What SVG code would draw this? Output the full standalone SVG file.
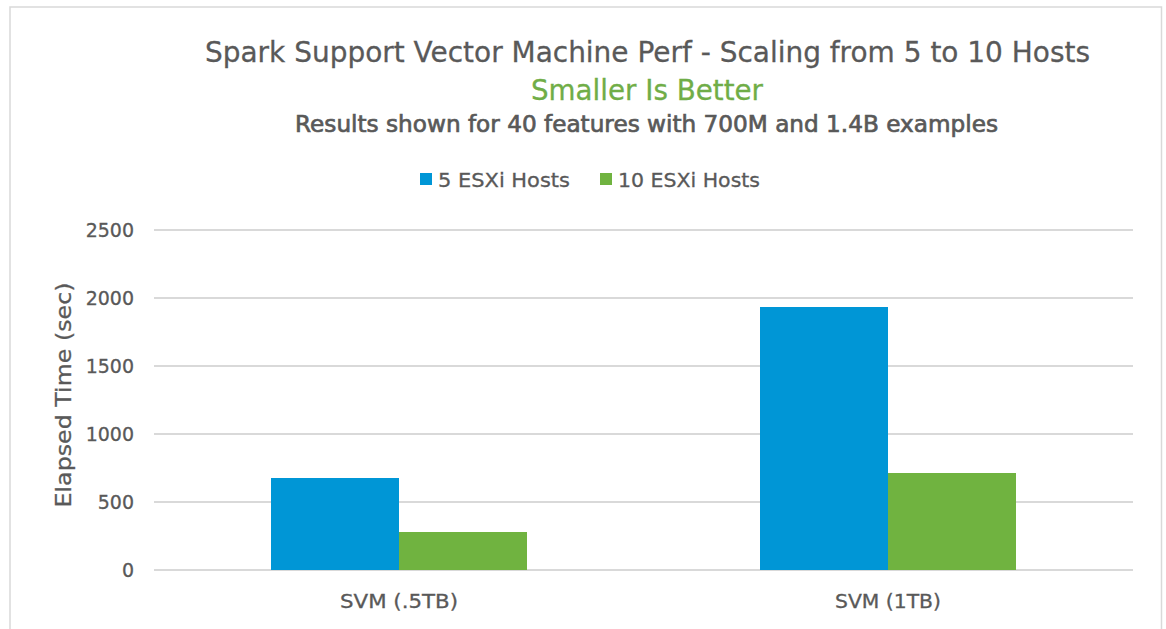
<svg xmlns="http://www.w3.org/2000/svg" width="1166" height="629" viewBox="0 0 1166 629">
<style>
text{font-family:"DejaVu Sans","Liberation Sans",sans-serif;fill:#595959;stroke:#595959;stroke-width:0.3}
.tick{font-size:19px;text-anchor:end}
.cat{font-size:19px;text-anchor:middle}
.grid{stroke:#d9d9d9;stroke-width:2}
</style>
<rect x="0" y="0" width="1166" height="629" fill="#ffffff"/>
<rect x="10" y="7" width="1151.5" height="640" fill="#ffffff" stroke="#d9d9d9" stroke-width="1.5"/>
<g id="title">
<text x="647.5" y="62" font-size="29" text-anchor="middle" textLength="885" lengthAdjust="spacingAndGlyphs">Spark Support Vector Machine Perf - Scaling from 5 to 10 Hosts</text>
<text x="647" y="100" font-size="29" text-anchor="middle" textLength="232" lengthAdjust="spacingAndGlyphs" style="fill:#70ad47;stroke:#70ad47">Smaller Is Better</text>
<text x="646.5" y="132" font-size="23" text-anchor="middle" textLength="703" lengthAdjust="spacingAndGlyphs" style="stroke-width:0.7">Results shown for 40 features with 700M and 1.4B examples</text>
</g>
<g id="legend">
<rect x="420" y="173" width="12" height="12" fill="#0096d6"/>
<text x="438" y="187" font-size="20" textLength="132" lengthAdjust="spacingAndGlyphs">5 ESXi Hosts</text>
<rect x="600" y="173" width="12" height="12" fill="#70b340"/>
<text x="618" y="187" font-size="20" textLength="142" lengthAdjust="spacingAndGlyphs">10 ESXi Hosts</text>
</g>
<g id="gridlines">
<line class="grid" x1="154" y1="230" x2="1133" y2="230"/>
<line class="grid" x1="154" y1="298" x2="1133" y2="298"/>
<line class="grid" x1="154" y1="366" x2="1133" y2="366"/>
<line class="grid" x1="154" y1="434" x2="1133" y2="434"/>
<line class="grid" x1="154" y1="502" x2="1133" y2="502"/>
<line class="grid" x1="154" y1="570" x2="1133" y2="570"/>
</g>
<g id="yaxis">
<text class="tick" x="134" y="237">2500</text>
<text class="tick" x="134" y="305">2000</text>
<text class="tick" x="134" y="373">1500</text>
<text class="tick" x="134" y="441">1000</text>
<text class="tick" x="134" y="509">500</text>
<text class="tick" x="134" y="577">0</text>
<text x="0" y="0" font-size="22" text-anchor="middle" textLength="225" lengthAdjust="spacingAndGlyphs" transform="translate(71,395) rotate(-90)">Elapsed Time (sec)</text>
</g>
<g id="bars">
<rect x="271" y="478" width="128" height="92" fill="#0096d6"/>
<rect x="399" y="532" width="128" height="38" fill="#70b340"/>
<rect x="760" y="307" width="128" height="263" fill="#0096d6"/>
<rect x="888" y="473" width="128" height="97" fill="#70b340"/>
</g>
<g id="xaxis">
<text class="cat" x="399" y="608" textLength="118" lengthAdjust="spacingAndGlyphs">SVM (.5TB)</text>
<text class="cat" x="888" y="608" textLength="106" lengthAdjust="spacingAndGlyphs">SVM (1TB)</text>
</g>
</svg>
